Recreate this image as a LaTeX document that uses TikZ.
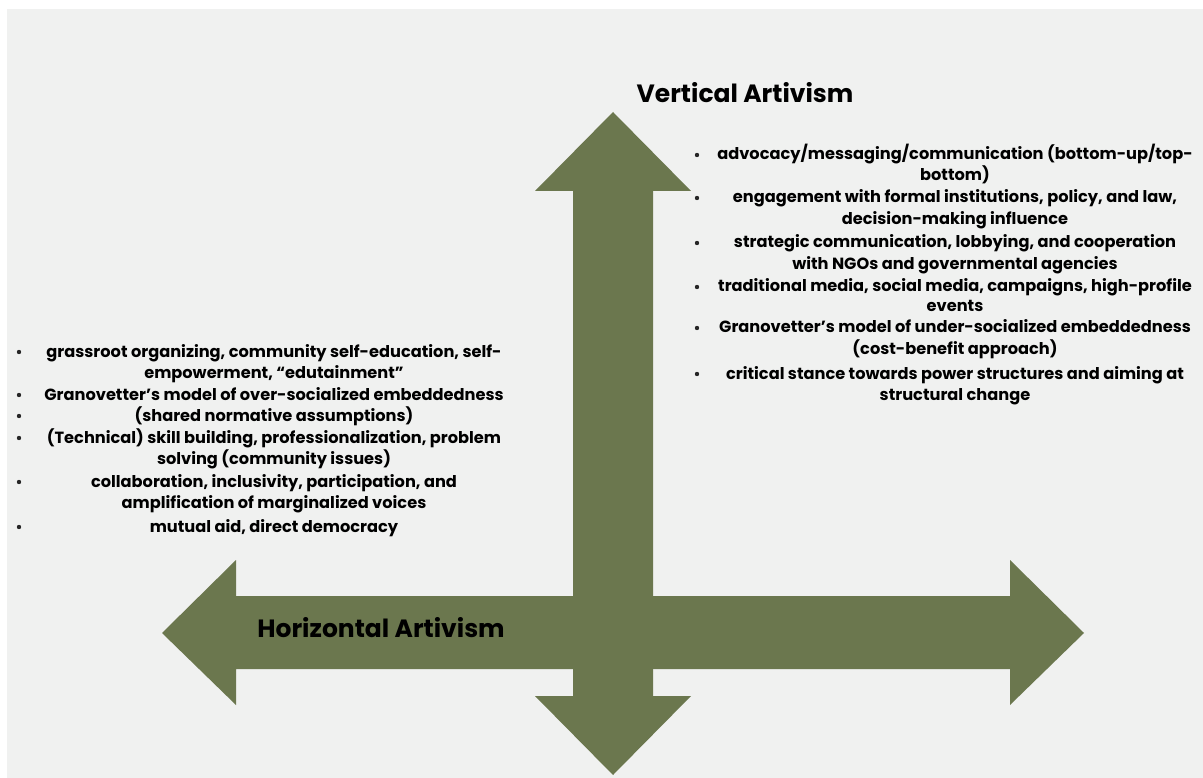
\documentclass[tikz,border=0pt]{standalone}
\usepackage{fontspec}
\setmainfont{Poppins}
\definecolor{bggray}{RGB}{240,241,240}
\definecolor{olive}{RGB}{107,119,78}
\begin{document}
\begin{tikzpicture}[x=1pt,y=-1pt,
  arrowshape/.style={fill=olive,draw=none},
  bodytext/.style={font=\fontsize{16.2}{20}\selectfont\bfseries,anchor=base,inner sep=0pt},
  titletext/.style={font=\fontsize{25}{30}\selectfont\bfseries,anchor=base,inner sep=0pt},
  bulletdot/.style={circle,fill=black!85,inner sep=0pt,minimum size=4.4pt}]
\useasboundingbox (0,0) rectangle (1203,778);
\fill[white] (0,0) rectangle (1203,778);
\fill[bggray] (7,9) rectangle (1203,778);
% vertical double arrow
\fill[arrowshape] (613,112) -- (691,191) -- (653,191) -- (653,696) -- (691,696) -- (613,775)
  -- (535,696) -- (573,696) -- (573,191) -- (535,191) -- cycle;
% horizontal double arrow
\fill[arrowshape] (162,633) -- (236,560) -- (236,596) -- (1010,596) -- (1010,560) -- (1084,633)
  -- (1010,705) -- (1010,669) -- (236,669) -- (236,705) -- cycle;
\node[titletext] (vtitle) at (745,103) {Vertical Artivism};
\node[titletext] (htitle) at (381,637) {Horizontal Artivism};
% right list
\foreach \i/\y/\t in {
  r1/155/{advocacy/messaging/communication (bottom-up/top-},
  r2/176/{bottom)},
  r3/198/{engagement with formal institutions, policy, and law,},
  r4/220/{decision-making influence},
  r5/243/{strategic communication, lobbying, and cooperation},
  r6/265/{with NGOs and governmental agencies},
  r7/287/{traditional media, social media, campaigns, high-profile},
  r8/307/{events},
  r9/328/{Granovetter’s model of under-socialized embeddedness},
  r10/350/{(cost-benefit approach)},
  r11/374/{critical stance towards power structures and aiming at},
  r12/395/{structural change}}
  \node[bodytext] (\i) at (955,\y+5) {\t};
\foreach \y [count=\k] in {155,198,243,287,328,374}
  \node[bulletdot] (rb\k) at (697,\y) {};
% left list
\foreach \i/\y/\t in {
  l1/352/{grassroot organizing, community self-education, self-},
  l2/373/{empowerment, “edutainment”},
  l3/395/{Granovetter’s model of over-socialized embeddedness},
  l4/416/{(shared normative assumptions)},
  l5/438/{(Technical) skill building, professionalization, problem},
  l6/459/{solving (community issues)},
  l7/482/{collaboration, inclusivity, participation, and},
  l8/503/{amplification of marginalized voices},
  l9/527/{mutual aid, direct democracy}}
  \node[bodytext] (\i) at (274,\y+5) {\t};
\foreach \y [count=\k] in {352,395,416,438,482,527}
  \node[bulletdot] (lb\k) at (19,\y) {};
\end{tikzpicture}
\end{document}
